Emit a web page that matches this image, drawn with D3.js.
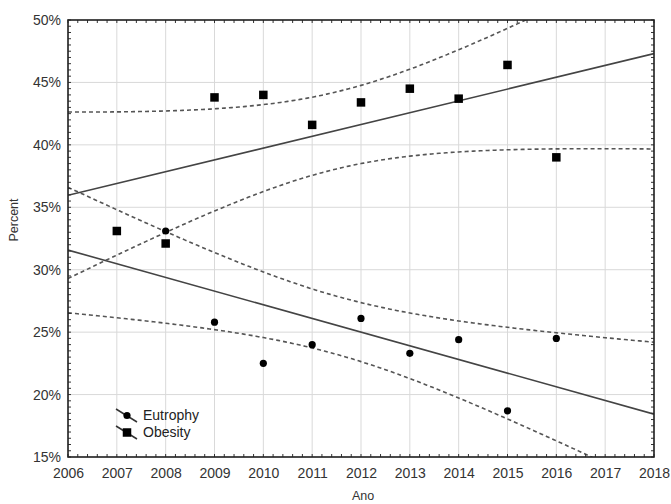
<!DOCTYPE html>
<html>
<head>
<meta charset="utf-8">
<script src="https://cdn.jsdelivr.net/npm/d3@7/dist/d3.min.js"></script>
<style>
  html, body { margin: 0; padding: 0; background: #fff; }
  svg { display: block; font-family: "Liberation Sans", Arial, sans-serif; }
</style>
</head>
<body>
<svg id="chart" width="671" height="504"></svg>
<script>
// Survey years and observed prevalence (%) for each group
const years = [2007, 2008, 2009, 2010, 2011, 2012, 2013, 2014, 2015, 2016];
const eutrophy = [33.1, 33.1, 25.8, 22.5, 24.0, 26.1, 23.3, 24.4, 18.7, 24.5];
const obesity = [33.1, 32.1, 43.8, 44.0, 41.6, 43.4, 44.5, 43.7, 46.4, 39.0];

// Axis ticks
const xTickValues = [2006, 2007, 2008, 2009, 2010, 2011, 2012, 2013, 2014, 2015, 2016, 2017, 2018];
const yTickValues = [15, 20, 25, 30, 35, 40, 45, 50];

// Student t quantile (0.975, df = n - 2 = 8) for the 95% band of the fitted mean
const T_975_DF8 = 2.306;

const svg = d3.select("#chart");
const margin = { top: 20, right: 17, bottom: 47, left: 68 };
const W = 671, H = 504;
const iw = W - margin.left - margin.right;
const ih = H - margin.top - margin.bottom;

const x = d3.scaleLinear().domain([2006, 2018]).range([0, iw]);
const y = d3.scaleLinear().domain([15, 50]).range([ih, 0]);

const g = svg.append("g").attr("transform", `translate(${margin.left},${margin.top})`);

svg.append("defs").append("clipPath").attr("id", "plotClip")
  .append("rect").attr("width", iw).attr("height", ih);

// Grid
g.append("g").selectAll("line").data(xTickValues).join("line")
  .attr("x1", d => x(d)).attr("x2", d => x(d))
  .attr("y1", 0).attr("y2", ih)
  .attr("stroke", "#d9d9d9").attr("stroke-width", 1);
g.append("g").selectAll("line").data(yTickValues).join("line")
  .attr("x1", 0).attr("x2", iw)
  .attr("y1", d => y(d)).attr("y2", d => y(d))
  .attr("stroke", "#d9d9d9").attr("stroke-width", 1);

// Least-squares line with 95% confidence band for the mean
function linearFit(xs, ys) {
  const n = xs.length;
  const mx = d3.mean(xs), my = d3.mean(ys);
  let sxx = 0, sxy = 0;
  xs.forEach((xv, i) => { sxx += (xv - mx) ** 2; sxy += (xv - mx) * (ys[i] - my); });
  const slope = sxy / sxx;
  const icpt = my - slope * mx;
  let sse = 0;
  xs.forEach((xv, i) => { sse += (ys[i] - (icpt + slope * xv)) ** 2; });
  const s = Math.sqrt(sse / (n - 2));
  const pred = xv => icpt + slope * xv;
  const half = xv => T_975_DF8 * s * Math.sqrt(1 / n + (xv - mx) ** 2 / sxx);
  return { pred, half };
}

const xs = d3.range(2006, 2018.0001, 0.05);
const plot = g.append("g").attr("clip-path", "url(#plotClip)");
const line = d3.line().x(d => x(d[0])).y(d => y(d[1]));

[eutrophy, obesity].forEach(series => {
  const fit = linearFit(years, series);
  plot.append("path")
    .attr("d", line(xs.map(v => [v, fit.pred(v) + fit.half(v)])))
    .attr("fill", "none").attr("stroke", "#555").attr("stroke-width", 1.6)
    .attr("stroke-dasharray", "4,3");
  plot.append("path")
    .attr("d", line(xs.map(v => [v, fit.pred(v) - fit.half(v)])))
    .attr("fill", "none").attr("stroke", "#555").attr("stroke-width", 1.6)
    .attr("stroke-dasharray", "4,3");
  plot.append("path")
    .attr("d", line([[2006, fit.pred(2006)], [2018, fit.pred(2018)]]))
    .attr("fill", "none").attr("stroke", "#444").attr("stroke-width", 1.6);
});

// Observations
plot.append("g").selectAll("circle").data(years).join("circle")
  .attr("cx", d => x(d)).attr("cy", (d, i) => y(eutrophy[i]))
  .attr("r", 3.6).attr("fill", "#000");
const sq = 8.5;
plot.append("g").selectAll("rect").data(years).join("rect")
  .attr("x", d => x(d) - sq / 2).attr("y", (d, i) => y(obesity[i]) - sq / 2)
  .attr("width", sq).attr("height", sq).attr("fill", "#000");

// Minor ticks on all four sides, pointing inward
const tickLen = 3;
const xMinor = d3.range(2006, 2018.0001, 0.2);
const yMinor = d3.range(15, 50.0001, 0.5);
const ticks = g.append("g").attr("stroke", "#333").attr("stroke-width", 1);
xMinor.forEach(v => {
  ticks.append("line").attr("x1", x(v)).attr("x2", x(v)).attr("y1", ih).attr("y2", ih - tickLen);
  ticks.append("line").attr("x1", x(v)).attr("x2", x(v)).attr("y1", 0).attr("y2", tickLen);
});
yMinor.forEach(v => {
  ticks.append("line").attr("x1", 0).attr("x2", tickLen).attr("y1", y(v)).attr("y2", y(v));
  ticks.append("line").attr("x1", iw).attr("x2", iw - tickLen).attr("y1", y(v)).attr("y2", y(v));
});

// Frame
g.append("rect").attr("width", iw).attr("height", ih)
  .attr("fill", "none").attr("stroke", "#222").attr("stroke-width", 1.6);

// Axis labels
const xAxis = d3.axisBottom(x).tickValues(xTickValues).tickFormat(d3.format("d")).tickSize(0).tickPadding(11);
const yAxis = d3.axisLeft(y).tickValues(yTickValues).tickFormat(d => d + "%").tickSize(0).tickPadding(7);
const gx = g.append("g").attr("transform", `translate(0,${ih})`).call(xAxis);
const gy = g.append("g").call(yAxis);
[gx, gy].forEach(a => {
  a.select(".domain").remove();
  a.selectAll("text").attr("font-size", 14).attr("fill", "#333")
    .attr("font-family", "Liberation Sans, Arial, sans-serif");
});

svg.append("text").attr("x", margin.left + iw / 2 + 2).attr("y", 500)
  .attr("text-anchor", "middle").attr("font-size", 12.5).attr("fill", "#333").text("Ano");
svg.append("text").attr("transform", "translate(18,220) rotate(-90)")
  .attr("text-anchor", "middle").attr("font-size", 12.5).attr("fill", "#333").text("Percent");

// Legend
const legend = svg.append("g");
const items = [
  { label: "Eutrophy", cy: 415.5, shape: "circle" },
  { label: "Obesity", cy: 432.5, shape: "square" }
];
items.forEach(it => {
  legend.append("line").attr("x1", 116).attr("y1", it.cy - 6.5).attr("x2", 137).attr("y2", it.cy + 6.5)
    .attr("stroke", "#333").attr("stroke-width", 1.5);
  if (it.shape === "circle") {
    legend.append("circle").attr("cx", 127).attr("cy", it.cy).attr("r", 3.6).attr("fill", "#000");
  } else {
    legend.append("rect").attr("x", 127 - 4.25).attr("y", it.cy - 4.25).attr("width", 8.5).attr("height", 8.5).attr("fill", "#000");
  }
  legend.append("text").attr("x", 143).attr("y", it.cy).attr("dy", "0.35em")
    .attr("font-size", 14).attr("fill", "#222").text(it.label);
});
</script>
</body>
</html>
